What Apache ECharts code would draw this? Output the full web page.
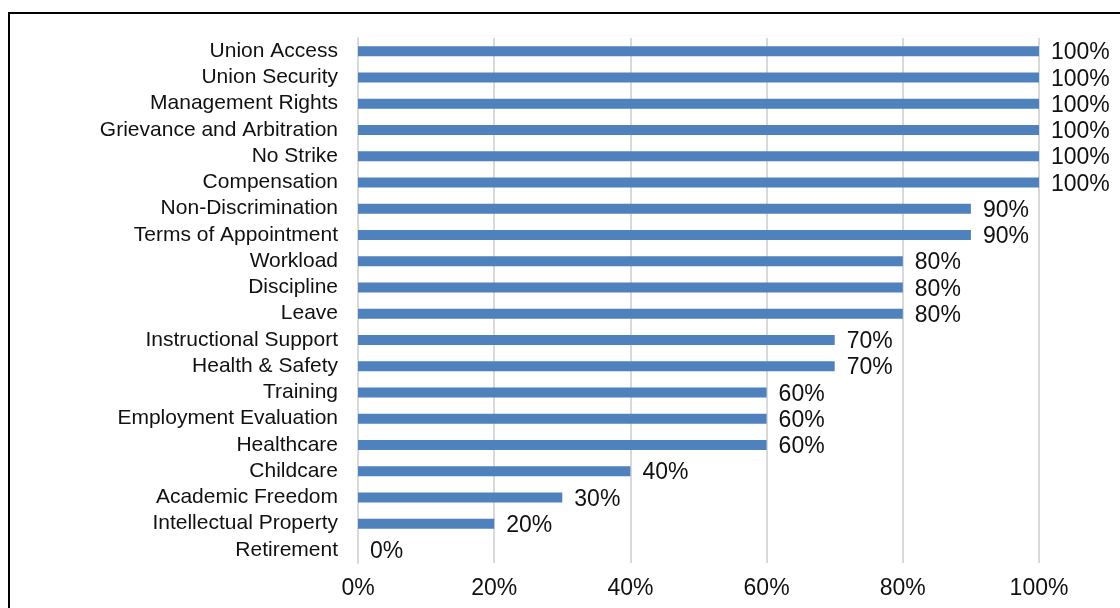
<!DOCTYPE html>
<html>
<head>
<meta charset="utf-8">
<script src="https://cdn.jsdelivr.net/npm/echarts@6/dist/echarts.min.js"></script>
<style>
html,body{margin:0;padding:0;background:#fff;overflow:hidden;}
#frame{position:absolute;left:8px;top:12px;width:1130px;height:620px;border:2.5px solid #000;box-sizing:border-box;}
#chart{position:absolute;left:0;top:0;width:1120px;height:608px;}
</style>
</head>
<body>
<div id="frame"></div>
<div id="chart"></div>
<script>
const categories = ["Union Access","Union Security","Management Rights","Grievance and Arbitration","No Strike","Compensation","Non-Discrimination","Terms of Appointment","Workload","Discipline","Leave","Instructional Support","Health & Safety","Training","Employment Evaluation","Healthcare","Childcare","Academic Freedom","Intellectual Property","Retirement"];
const values = [100,100,100,100,100,100,90,90,80,80,80,70,70,60,60,60,40,30,20,0];
const xTicks = [0,20,40,60,80,100];

const chart = echarts.init(document.getElementById('chart'));
chart.setOption({
  animation:false,
  textStyle:{fontFamily:'Liberation Sans, Arial, sans-serif'},
  grid:{left:358,right:81,top:38,bottom:45,containLabel:false},
  xAxis:{type:'value',min:0,max:100,interval:20,
    axisLine:{show:false},axisTick:{show:false},
    splitLine:{show:true,lineStyle:{color:'#d9d9d9',width:2}},
    axisLabel:{formatter:v=>v+'%',fontSize:23,color:'#111',margin:14}},
  yAxis:{type:'category',data:categories,inverse:true,
    axisLine:{show:true,lineStyle:{color:'#d9d9d9',width:2}},axisTick:{show:false},
    axisLabel:{interval:0,fontSize:21,color:'#111',margin:20}},
  series:[{type:'bar',data:values,barWidth:10,
    itemStyle:{color:'#4f81bd'},
    label:{show:true,position:'right',distance:12,offset:[0,2],formatter:p=>p.value+'%',fontSize:23,color:'#111'}}]
});
</script>
</body>
</html>
